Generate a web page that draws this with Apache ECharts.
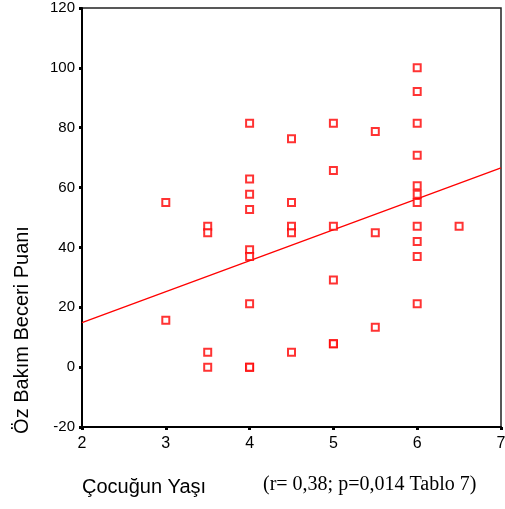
<!DOCTYPE html>
<html>
<head>
<meta charset="utf-8">
<script src="https://cdn.jsdelivr.net/npm/echarts@6/dist/echarts.min.js"></script>
<style>
  html, body { margin: 0; padding: 0; background: #fff; }
  #chart { width: 505px; height: 509px; }
</style>
</head>
<body>
<div id="chart"></div>
<script>
// Çocuğun yaşı (x) ve Öz bakım beceri puanı (y)
var ageValues = [
  3, 3,
  3.5, 3.5, 3.5, 3.5,
  4, 4, 4, 4, 4, 4, 4, 4, 4,
  4.5, 4.5, 4.5, 4.5, 4.5,
  5, 5, 5, 5, 5, 5,
  5.5, 5.5, 5.5,
  6, 6, 6, 6, 6, 6, 6, 6, 6, 6, 6,
  6.5
]
var scoreValues = [
  55, 15.7,
  47.1, 44.9, 5, 0,
  81.5, 62.9, 57.8, 52.7, 39.2, 37, 21.2, 0, 0,
  76.3, 55, 47.1, 44.9, 5,
  81.5, 65.7, 47.1, 29.1, 7.8, 7.8,
  78.7, 44.9, 13.3,
  100, 92.1, 81.5, 70.8, 60.6, 57.8, 55, 47.1, 42, 37, 21.2,
  47.1
]
// regresyon doğrusu uç noktaları
var fitX = [2, 7]
var fitY = [14.9, 66.6]

var xTitle = 'Çocuğun Yaşı'
var yTitle = 'Öz Bakım Beceri Puanı'
var caption = '(r= 0,38; p=0,014 Tablo 7)'

var chart = echarts.init(document.getElementById('chart'))

var points = ageValues.map(function (x, i) { return [x, scoreValues[i]] })
var fitLine = fitX.map(function (x, i) { return [x, fitY[i]] })

var sans = 'Liberation Sans, Arial, sans-serif'

var option = {
  animation: false,
  backgroundColor: '#fff',
  grid: {
    left: 82, right: 4, top: 8, bottom: 82,
    outerBoundsMode: 'none',
    containLabel: false,
    show: true, borderColor: '#222', borderWidth: 1.5, backgroundColor: 'transparent'
  },
  xAxis: {
    type: 'value', min: 2, max: 7, interval: 1,
    axisLine: { onZero: false, lineStyle: { color: '#000', width: 2 } },
    axisTick: { show: true, inside: false, length: 3, lineStyle: { color: '#000', width: 3 } },
    axisLabel: { color: '#000', fontSize: 16, margin: 9, fontFamily: sans },
    splitLine: { show: false }
  },
  yAxis: {
    type: 'value', min: -20, max: 120, interval: 20,
    axisLine: { onZero: false, lineStyle: { color: '#000', width: 2 } },
    axisTick: { show: true, inside: false, length: 3, lineStyle: { color: '#000', width: 3 } },
    axisLabel: { color: '#000', fontSize: 15, margin: 7, fontFamily: sans },
    splitLine: { show: false }
  },
  series: [
    {
      type: 'line',
      data: fitLine,
      showSymbol: false,
      lineStyle: { color: '#ff0000', width: 1.3 },
      z: 2
    },
    {
      type: 'scatter',
      data: points,
      symbol: 'emptyRect',
      symbolSize: 7,
      itemStyle: { color: '#ff0000', borderColor: '#ff0000', borderWidth: 1.3 },
      z: 3
    }
  ],
  graphic: [
    {
      type: 'text',
      x: 22, y: 330,
      rotation: Math.PI / 2,
      style: {
        text: yTitle, fill: '#000', fontSize: 20,
        fontFamily: sans,
        textAlign: 'center', textVerticalAlign: 'middle'
      }
    },
    {
      type: 'text',
      x: 82, y: 487,
      style: {
        text: xTitle, fill: '#000', fontSize: 20,
        fontFamily: sans,
        textAlign: 'left', textVerticalAlign: 'middle'
      }
    },
    {
      type: 'text',
      x: 263, y: 485,
      style: {
        text: caption, fill: '#000', fontSize: 20,
        fontFamily: 'Liberation Serif, Times New Roman, serif',
        textAlign: 'left', textVerticalAlign: 'middle'
      }
    }
  ]
}
chart.setOption(option)
</script>
</body>
</html>
